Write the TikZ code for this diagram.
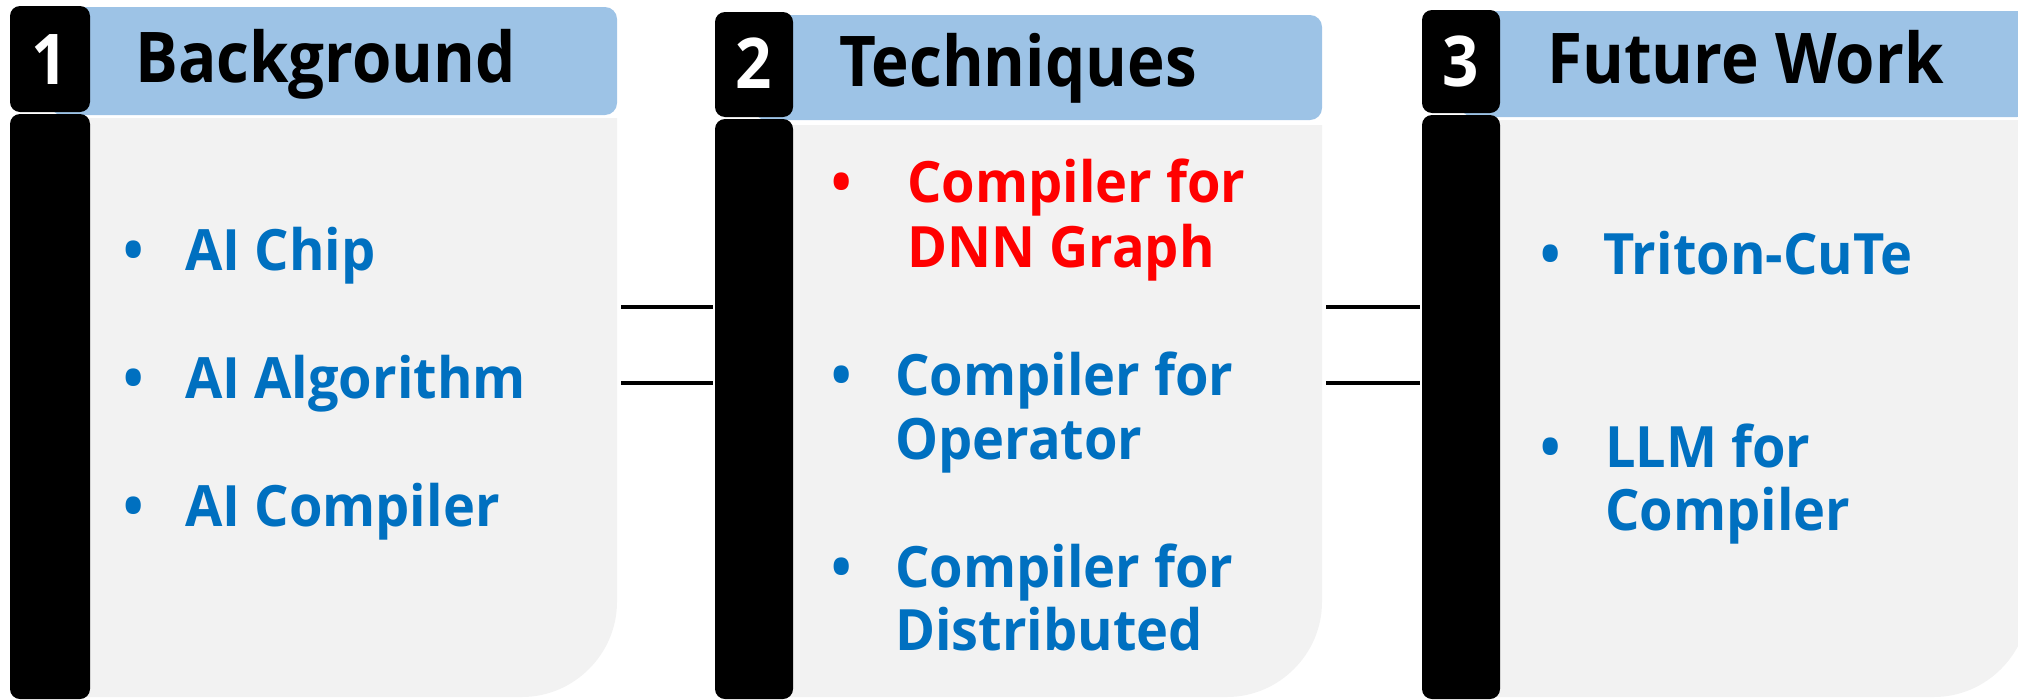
\documentclass[tikz,border=0pt]{standalone}
\usepackage{fontspec}
\setmainfont{Open Sans}
\newfontfamily\titlefont{Open Sans}[FakeStretch=0.91]
\newfontfamily\itemfont{Open Sans}[FakeStretch=0.95]
\definecolor{hdrblue}{HTML}{9DC3E6}
\definecolor{bodygray}{HTML}{F2F2F2}
\definecolor{itemblue}{HTML}{0070C0}
\definecolor{itemred}{HTML}{FF0000}
\tikzset{
  tabshape/.style={fill=black, rounded corners=10},
  hdrshape/.style={fill=hdrblue, rounded corners=12},
  bodyshape/.style={fill=bodygray},
  title/.style={font=\titlefont\fontsize{70}{84}\selectfont\bfseries, anchor=base west, inner sep=0pt},
  num/.style={font=\titlefont\fontsize{70}{84}\selectfont\bfseries, text=white, anchor=base, inner sep=0pt},
  item/.style={font=\itemfont\fontsize{57}{68}\selectfont\bfseries, text=itemblue, anchor=base west, inner sep=0pt},
  dot/.style={item, anchor=base},
  hot/.style={text=itemred},
  link/.style={draw=black, line width=4pt}
}
\begin{document}
\begin{tikzpicture}[x=1pt, y=-1pt]
\useasboundingbox (0,0) rectangle (2018,699);

% ---- panel 1: Background ----
\fill[bodyshape] (50,118) -- (617,118) -- (617,602)
  .. controls (617,654) and (574,697) .. (522,697) -- (50,697) -- cycle;
\fill[hdrshape] (50,7) rectangle (617,115);
\fill[tabshape] (10,6) rectangle (90,112);
\fill[tabshape] (10,114) rectangle (90,699);
\node[num] (n1) at (50,84) {1};
\node[title] (t1) at (135,82) {Background};
\node[dot] (d11) at (134,270) {•};
\node[item] (i11) at (185,270) {AI Chip};
\node[dot] (d12) at (134,398) {•};
\node[item] (i12) at (185,398) {AI Algorithm};
\node[dot] (d13) at (134,526) {•};
\node[item] (i13) at (185,526) {AI Compiler};

% ---- panel 2: Techniques ----
\fill[bodyshape] (754,125) -- (1322,125) -- (1322,602)
  .. controls (1322,654) and (1279,697) .. (1227,697) -- (754,697) -- cycle;
\fill[hdrshape] (754,15) rectangle (1322,120);
\fill[tabshape] (715,12) rectangle (793,117);
\fill[tabshape] (715,119) rectangle (793,699);
\node[num] (n2) at (754,88) {2};
\node[title] (t2) at (839,86) {Techniques};
\node[dot, hot] (d21) at (842,202) {•};
\node[item, hot] (i21a) at (907,202) {Compiler for};
\node[item, hot] (i21b) at (907,267) {DNN Graph};
\node[dot] (d22) at (842,395) {•};
\node[item] (i22a) at (895,395) {Compiler for};
\node[item] (i22b) at (895,459) {Operator};
\node[dot] (d23) at (842,587) {•};
\node[item] (i23a) at (895,587) {Compiler for};
\node[item] (i23b) at (895,650) {Distributed};

% ---- panel 3: Future Work ----
\fill[bodyshape] (1461,120) -- (2029,120) -- (2029,602)
  .. controls (2029,654) and (1986,697) .. (1934,697) -- (1461,697) -- cycle;
\fill[hdrshape] (1461,11) rectangle (2029,117);
\fill[tabshape] (1422,10) rectangle (1500,113);
\fill[tabshape] (1422,115) rectangle (1500,699);
\node[num] (n3) at (1461,86) {3};
\node[title] (t3) at (1547,83) {Future Work};
\node[dot] (d31) at (1551,274) {•};
\node[item] (i31) at (1603,274) {Triton-CuTe};
\node[dot] (d32) at (1551,467) {•};
\node[item] (i32a) at (1605,467) {LLM for};
\node[item] (i32b) at (1605,530) {Compiler};

% ---- connectors between panels ----
\coordinate (a1) at (621,307);  \coordinate (b1) at (713,307);
\coordinate (a2) at (621,383);  \coordinate (b2) at (713,383);
\coordinate (a3) at (1326,307); \coordinate (b3) at (1420,307);
\coordinate (a4) at (1326,383); \coordinate (b4) at (1420,383);
\draw[link] (a1) -- (b1);
\draw[link] (a2) -- (b2);
\draw[link] (a3) -- (b3);
\draw[link] (a4) -- (b4);
\end{tikzpicture}
\end{document}
